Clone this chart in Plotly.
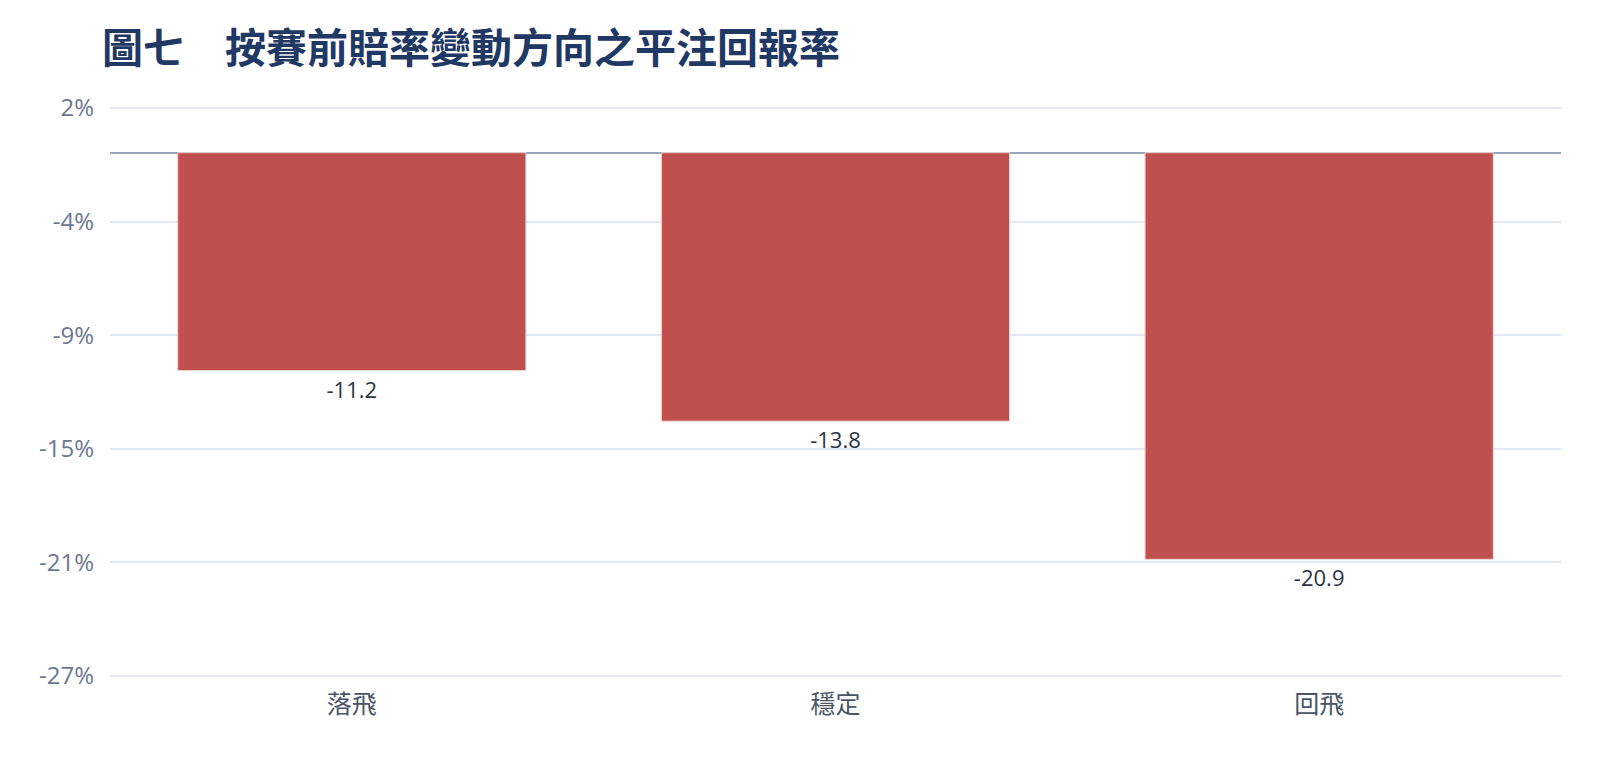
import plotly.graph_objects as go

# chart data
categories = ['落飛', '穩定', '回飛']
returns = [-11.2, -13.8, -20.9]

# y axis ticks (evenly spaced between the axis ends, labels rounded)
y_tickvals = [2.3, -3.54, -9.38, -15.22, -21.06, -26.9]
y_ticktext = ['2%', '-4%', '-9%', '-15%', '-21%', '-27%']

fig = go.Figure()

fig.add_trace(go.Bar(
    x=categories,
    y=returns,
    text=[f'{v:.1f}' for v in returns],
    textposition='outside',
    textfont=dict(size=22, color='#2a3442', family='Open Sans, Noto Sans CJK TC'),
    cliponaxis=False,
    marker=dict(color='#c0504d', line=dict(color='#f2d6d5', width=1)),
    width=0.72,
))

fig.update_layout(
    title=dict(
        text='<b>圖七　按賽前賠率變動方向之平注回報率</b>',
        x=94 / 1600, xanchor='left',
        y=1 - 41 / 781, yanchor='middle',
        font=dict(size=41, color='#1f3864', family='Noto Sans CJK TC'),
    ),
    width=1600,
    height=781,
    margin=dict(l=102, r=47, t=98, b=111),
    plot_bgcolor='white',
    paper_bgcolor='white',
    showlegend=False,
    font=dict(family='Open Sans, Noto Sans CJK TC'),
)

fig.update_xaxes(
    showgrid=False,
    showline=False,
    ticks='',
    tickfont=dict(size=25, color='#4a5566', family='Noto Sans CJK TC'),
    ticklabelstandoff=9,
)

fig.update_yaxes(
    range=[-27.0, 2.4],
    tickvals=y_tickvals,
    ticktext=y_ticktext,
    tickfont=dict(size=24, color='#6b7890'),
    showgrid=True,
    gridcolor='#e3e8f2',
    gridwidth=1.5,
    zeroline=True,
    zerolinecolor='#98a4ba',
    zerolinewidth=2,
    showline=False,
    ticks='',
    ticklabelstandoff=15,
)

fig.write_html("out.html")
